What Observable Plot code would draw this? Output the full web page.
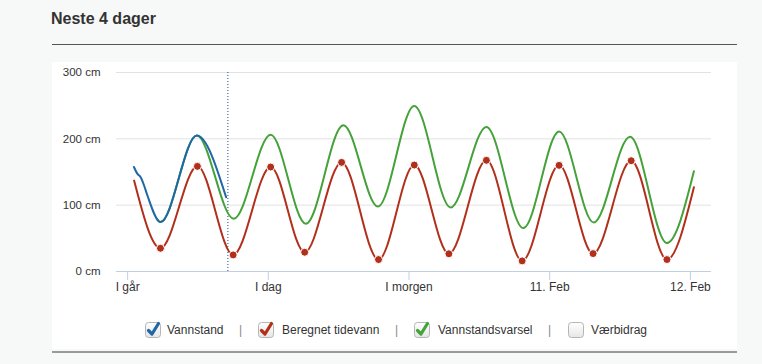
<!DOCTYPE html>
<html>
<head>
<meta charset="utf-8">
<script src="https://cdn.jsdelivr.net/npm/d3@7"></script>
<script src="https://cdn.jsdelivr.net/npm/@observablehq/plot@0.6"></script>
<style>
  html, body { margin: 0; padding: 0; }
  body { width: 762px; height: 364px; background: #f7f8f8; position: relative; overflow: hidden;
         font-family: "Liberation Sans", Arial, sans-serif; color: #333; }
  #title { position: absolute; left: 51px; top: 10px; font-size: 16px; font-weight: bold; color: #333; }
  #rule { position: absolute; left: 52px; top: 44px; width: 685px; height: 1px; background: #555; }
  #panel { position: absolute; left: 52px; top: 62px; width: 685px; height: 287px; background: #fff; }
  #bottom { position: absolute; left: 52px; top: 351px; width: 685px; height: 2px; background: #9a9a9a; }
  #chart { position: absolute; left: 0; top: 62px; }
  .lg { position: absolute; top: 322px; font-size: 12px; color: #333; line-height: 16px; }
  .sep { position: absolute; top: 322px; font-size: 12px; color: #888; line-height: 16px; }
  .cb { position: absolute; top: 322px; width: 16px; height: 16px; }
</style>
</head>
<body>
<div id="title">Neste 4 dager</div>
<div id="rule"></div>
<div id="panel"></div>
<div id="bottom"></div>
<div id="chart"></div>
<div id="legend"></div>
<script>
// Hours since start of "I går"
const tickHours = [0, 24, 48, 72, 96];
const tickLabels = ["I går", "I dag", "I morgen", "11. Feb", "12. Feb"];
const yTicks = [0, 100, 200, 300];
const nowHour = 17.1;

// Vannstand (observed)
const vannstandT = [1.07, 1.65, 2.22, 2.79, 3.36, 5.6, 11.8, 16.8];
const vannstandV = [157.5, 147.5, 142, 130, 115, 74.5, 205, 112];

// Beregnet tidevann (astronomical tide) - extremes
const tideT = [1.1, 5.6, 11.9, 18.0, 24.4, 30.2, 36.5, 42.8, 48.9, 54.8, 61.2, 67.3, 73.6, 79.4, 85.9, 92.0, 96.6];
const tideV = [137, 35, 158.5, 25, 157.5, 29, 164.5, 18, 160.5, 26.7, 167.6, 16, 160, 27, 167, 18, 127];

// Vannstandsvarsel (forecast)
const varselT = [5.0, 5.6, 11.8, 18.1, 24.4, 30.4, 36.8, 42.7, 48.9, 55.1, 61.2, 67.5, 73.6, 79.5, 85.7, 92.0, 96.6];
const varselV = [79, 74.5, 205, 79.5, 206, 72, 220.5, 98, 249.6, 96.6, 218, 65.4, 211, 74, 203, 43, 151];

const legendItems = ["Vannstand", "Beregnet tidevann", "Vannstandsvarsel", "Værbidrag"];
const colors = ["#1f67a6", "#b2301b", "#45a23a", null];

const blue = vannstandT.map((t, i) => ({t, v: vannstandV[i]}));
const red = tideT.map((t, i) => ({t, v: tideV[i]}));
const green = varselT.map((t, i) => ({t, v: varselV[i]}));
const redDots = red.slice(1, -1);

const chart = Plot.plot({
  width: 762,
  height: 240,
  marginLeft: 116,
  marginRight: 51,
  marginTop: 10,
  marginBottom: 31,
  style: {fontFamily: "'Liberation Sans', Arial, sans-serif", fontSize: "11.5px", color: "#333", background: "transparent"},
  x: {domain: [-1.9, 99.6]},
  y: {domain: [0, 300]},
  marks: [
    Plot.gridY([100, 200, 300], {stroke: "#e2e2e2", strokeOpacity: 1}),
    Plot.axisY(yTicks, {tickSize: 0, tickPadding: 16, tickFormat: d => d + " cm", label: null, fontSize: 11.5}),
    Plot.ruleY([0], {stroke: "#c0d0e0", strokeWidth: 1}),
    Plot.axisX(tickHours, {tickSize: 9, tickPadding: 2, stroke: "#c0d0e0", fill: "#333",
      tickFormat: (d) => tickLabels[tickHours.indexOf(d)], label: null, fontSize: 12}),
    Plot.ruleX([nowHour], {y1: 0, y2: 300, stroke: "#1b4e8c", strokeDasharray: "1,2", strokeWidth: 1}),
    Plot.line(red, {x: "t", y: "v", stroke: colors[1], strokeWidth: 2, curve: "monotone-x"}),
    Plot.line(green, {x: "t", y: "v", stroke: colors[2], strokeWidth: 2, curve: "monotone-x"}),
    Plot.line(blue, {x: "t", y: "v", stroke: colors[0], strokeWidth: 2, curve: "monotone-x"}),
    Plot.dot(redDots, {x: "t", y: "v", r: 4, fill: colors[1], stroke: "#fff", strokeWidth: 1})
  ]
});
document.getElementById("chart").appendChild(chart);

// Legend (HTML)
const cbX = [145, 258, 414, 568];
const txtX = [167, 282, 438, 591];
const sepX = [239, 395, 548];
const leg = document.getElementById("legend");
legendItems.forEach((name, i) => {
  const c = colors[i];
  const box = document.createElement("div");
  box.className = "cb";
  box.style.left = cbX[i] + "px";
  box.innerHTML = `<svg width="18" height="18" viewBox="0 0 18 18" style="overflow:visible">
    <defs><linearGradient id="g${i}" x1="0" y1="0" x2="0" y2="1"><stop offset="0" stop-color="#fff"/><stop offset="1" stop-color="#e6e6e6"/></linearGradient></defs>
    <rect x="0.5" y="0.5" width="15" height="15" rx="3" fill="url(#g${i})" stroke="#b5b5b5"/>
    ${c ? `<path d="M3.5 8.5 L7 12 L13.5 1.5" fill="none" stroke="${c}" stroke-width="3.2" stroke-linecap="round" stroke-linejoin="round"/>` : ""}
  </svg>`;
  leg.appendChild(box);
  const t = document.createElement("div");
  t.className = "lg";
  t.style.left = txtX[i] + "px";
  t.textContent = name;
  leg.appendChild(t);
});
sepX.forEach(x => {
  const s = document.createElement("div");
  s.className = "sep";
  s.style.left = x + "px";
  s.textContent = "|";
  leg.appendChild(s);
});
</script>
</body>
</html>
